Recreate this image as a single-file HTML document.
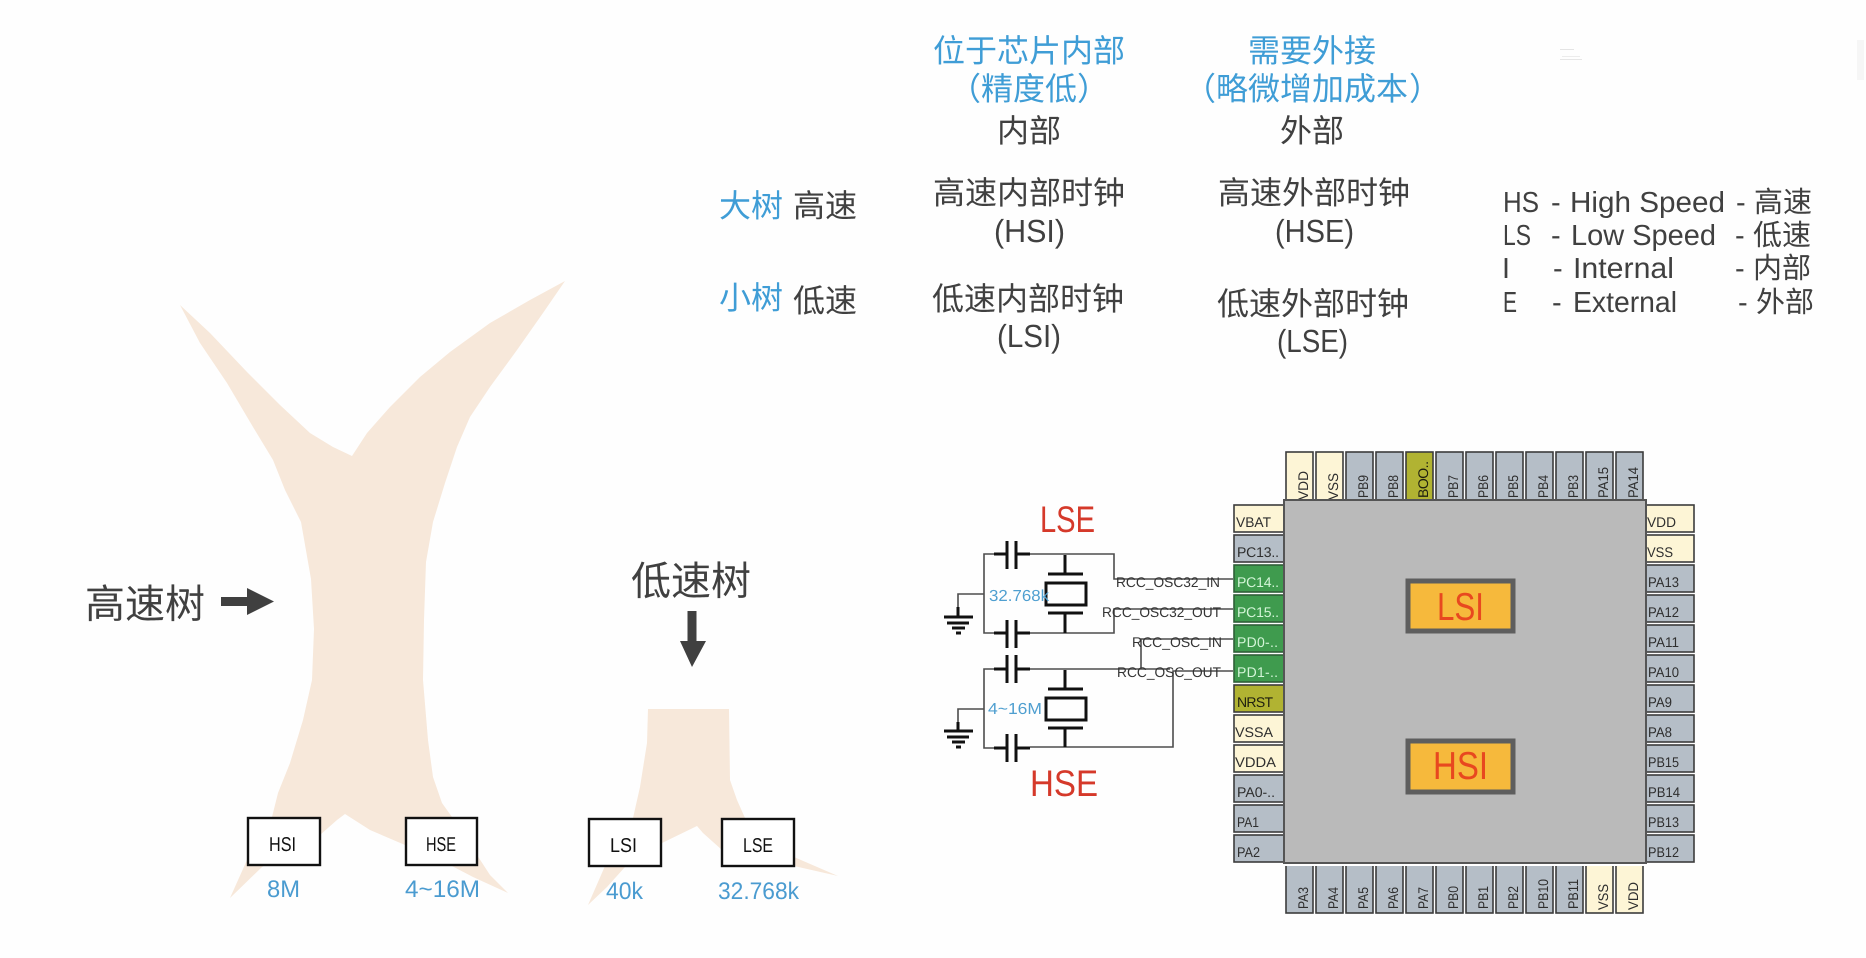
<!DOCTYPE html>
<html><head><meta charset="utf-8"><title>时钟树</title>
<style>
html,body{margin:0;padding:0;background:#fefefe}
svg{display:block}
text{font-family:"Liberation Sans","Noto Sans CJK SC",sans-serif;text-rendering:geometricPrecision}
.d{fill:#404040}
.b{fill:#3f9dd6}
.l{fill:#4a9bd0}
.m{text-anchor:middle}
.p{font-size:14px;fill:#2e2e2e}
.pg{font-size:14px;fill:#d4f5d8}
.gray{fill:#b5bec7;stroke:#3c3c3c;stroke-width:1.6}
.cream{fill:#fdf5d6;stroke:#3c3c3c;stroke-width:1.6}
.green{fill:#3f9b4e;stroke:#2f5f38;stroke-width:1.6}
.olive{fill:#b1b332;stroke:#3c3c3c;stroke-width:1.6}
.w{fill:none;stroke:#4d4d4d;stroke-width:1.6}
.k{fill:none;stroke:#111;stroke-width:3}
.r{font-size:14px;fill:#333}
.t{fill:#f7e8da}
</style></head>
<body>
<svg width="1866" height="958" viewBox="0 0 1866 958" xmlns="http://www.w3.org/2000/svg">
<rect width="1866" height="958" fill="#fefefe"/>

<!-- faint artefacts -->
<rect x="1560" y="49" width="14" height="1" fill="#e4e4e4"/>
<rect x="1562" y="56" width="18" height="1" fill="#ececec"/>
<rect x="1560" y="59" width="22" height="1" fill="#e6e6e6"/>
<rect x="1857" y="40" width="7" height="40" fill="#f6f6f6"/>

<!-- big tree -->
<path class="t" d="M180,305 L210,333 L247,372 L280,405 L310,433 L333,447 L352,456 L367,433 L390,407 L420,377 L450,352 L490,323 L530,300 L565,281 L543,313 L517,350 L490,387 L470,417 L457,447 L445,483 L433,522 L426,562 L424,620 L423,680 L428,740 L433,777 L442,803 L452,817 L477,855 L490,875 L508,893 L473,877 L450,865 L405,845 L370,830 L345,814 L337,820 L320,835 L262,867 L230,898 L247,860 L272,817 L278,793 L290,763 L303,720 L312,680 L314,629 L311,579 L301,522 L285,490 L273,460 L253,427 L227,383 L200,343 Z"/>
<!-- stump -->
<path class="t" d="M648,709 L729,709 L730,780 L737,800 L745,818 L794,857 L838,876 L794,866 L722,850 L703,833 L697,826 L662,843 L625,867 L607,887 L588,905 L605,866 L633,818 L640,787 L647,743 Z"/>

<!-- top table -->
<g font-size="32">
<text x="1029" y="62" class="b m">位于芯片内部</text>
<text x="949" y="100" class="b">（</text>
<text x="1029" y="100" class="b m">精度低</text>
<text x="1077" y="100" class="b">）</text>
<text x="1029" y="142" class="d m">内部</text>
<text x="1312" y="62" class="b m">需要外接</text>
<text x="1184" y="100" class="b">（</text>
<text x="1312" y="100" class="b m">略微增加成本</text>
<text x="1409" y="100" class="b">）</text>
<text x="1312" y="142" class="d m">外部</text>
<text x="1029" y="204" class="d m">高速内部时钟</text>
<text x="994" y="242" class="d" textLength="71" lengthAdjust="spacingAndGlyphs">(HSI)</text>
<text x="1314" y="204" class="d m">高速外部时钟</text>
<text x="1275" y="242" class="d" textLength="79" lengthAdjust="spacingAndGlyphs">(HSE)</text>
<text x="1028" y="310" class="d m">低速内部时钟</text>
<text x="997" y="347" class="d" textLength="64" lengthAdjust="spacingAndGlyphs">(LSI)</text>
<text x="1313" y="315" class="d m">低速外部时钟</text>
<text x="1277" y="352" class="d" textLength="71" lengthAdjust="spacingAndGlyphs">(LSE)</text>
<text x="719" y="217" class="b">大树</text>
<text x="793" y="217" class="d">高速</text>
<text x="719" y="309" class="b">小树</text>
<text x="793" y="312" class="d">低速</text>
</g>

<!-- legend -->
<g font-size="29" class="d">
<text x="1503" y="212" textLength="36" lengthAdjust="spacingAndGlyphs">HS</text>
<text x="1551" y="212">-</text>
<text x="1570" y="212" textLength="155" lengthAdjust="spacingAndGlyphs">High Speed</text>
<text x="1736" y="212">-</text>
<text x="1754" y="212">高速</text>
<text x="1503" y="245" textLength="28" lengthAdjust="spacingAndGlyphs">LS</text>
<text x="1551" y="245">-</text>
<text x="1571" y="245" textLength="145" lengthAdjust="spacingAndGlyphs">Low Speed</text>
<text x="1735" y="245">-</text>
<text x="1753" y="245">低速</text>
<text x="1502" y="278" textLength="8" lengthAdjust="spacingAndGlyphs">I</text>
<text x="1553" y="278">-</text>
<text x="1573" y="278" textLength="101" lengthAdjust="spacingAndGlyphs">Internal</text>
<text x="1735" y="278">-</text>
<text x="1753" y="278">内部</text>
<text x="1503" y="312" textLength="14" lengthAdjust="spacingAndGlyphs">E</text>
<text x="1552" y="312">-</text>
<text x="1573" y="312" textLength="104" lengthAdjust="spacingAndGlyphs">External</text>
<text x="1738" y="312">-</text>
<text x="1756" y="312">外部</text>
</g>

<!-- tree labels + arrows -->
<text x="85" y="618" font-size="40" class="d">高速树</text>
<path d="M221,597 H247 V588 L274,601.5 L247,615 V606 H221 Z" fill="#404040"/>
<text x="631" y="595" font-size="40" class="d">低速树</text>
<path d="M687.5,611 H696.5 V641 H706 L692,667 L680,641 H687.5 Z" fill="#404040"/>

<!-- small boxes -->
<g fill="#fff" stroke="#111" stroke-width="2.4">
<rect x="248" y="818" width="72" height="47"/>
<rect x="406" y="818" width="71" height="47"/>
<rect x="589" y="819" width="72" height="47"/>
<rect x="722" y="819" width="72" height="47"/>
</g>
<g font-size="20" fill="#111">
<text x="269" y="851" textLength="27" lengthAdjust="spacingAndGlyphs">HSI</text>
<text x="426" y="851" textLength="30" lengthAdjust="spacingAndGlyphs">HSE</text>
<text x="610" y="852" textLength="27" lengthAdjust="spacingAndGlyphs">LSI</text>
<text x="743" y="852" textLength="30" lengthAdjust="spacingAndGlyphs">LSE</text>
</g>
<g font-size="24" class="l">
<text x="267" y="897" textLength="33" lengthAdjust="spacingAndGlyphs">8M</text>
<text x="405" y="897" textLength="75" lengthAdjust="spacingAndGlyphs">4~16M</text>
<text x="606" y="899" textLength="37" lengthAdjust="spacingAndGlyphs">40k</text>
<text x="718" y="899" textLength="81" lengthAdjust="spacingAndGlyphs">32.768k</text>
</g>

<!-- circuit wires -->
<path class="w" d="M994,554 H984 V633 H994 M1030,554 H1114 V579 H1233 M1030,633 H1114 V609 H1233 M984,594 H958 V607"/>
<path class="w" d="M994,669 H984 V748 H994 M1030,669 H1141 V639 H1233 M1141,669 H1170 M1030,747 H1173 V671 H1233 M984,709 H958 V722"/>
<!-- caps and crystals -->
<g class="k">
<path d="M994,554 H1007 M1007,541 V569 M1016,541 V569 M1016,554 H1030"/>
<path d="M994,633 H1007 M1007,620 V648 M1016,620 V648 M1016,633 H1030"/>
<path d="M994,669 H1007 M1007,655 V683 M1016,655 V683 M1016,669 H1030"/>
<path d="M994,748 H1007 M1007,734 V762 M1016,734 V762 M1016,748 H1030"/>
<path d="M1065,555 V574 M1048,574 H1083 M1065,613 V633 M1048,613 H1083"/>
<rect x="1046" y="583" width="40" height="22"/>
<path d="M1065,670 V689 M1048,689 H1083 M1065,728 V747 M1048,728 H1083"/>
<rect x="1046" y="698" width="40" height="22"/>
<path d="M958,607 V617 M944,617 H973 M947,623 H969 M952,628 H965 M956,633 H961"/>
<path d="M958,722 V731 M944,731 H973 M947,737 H969 M952,742 H965 M956,747 H961"/>
</g>
<g class="r">
<text x="1116" y="587" textLength="104" lengthAdjust="spacingAndGlyphs">RCC_OSC32_IN</text>
<text x="1102" y="617" textLength="119" lengthAdjust="spacingAndGlyphs">RCC_OSC32_OUT</text>
<text x="1132" y="647" textLength="90" lengthAdjust="spacingAndGlyphs">RCC_OSC_IN</text>
<text x="1117" y="677" textLength="104" lengthAdjust="spacingAndGlyphs">RCC_OSC_OUT</text>
</g>
<text x="989" y="601" font-size="16" fill="#4f9fd0" textLength="60" lengthAdjust="spacingAndGlyphs">32.768k</text>
<text x="988" y="714" font-size="16" fill="#4f9fd0" textLength="54" lengthAdjust="spacingAndGlyphs">4~16M</text>
<text x="1040" y="532" font-size="37" fill="#d5392a" textLength="55" lengthAdjust="spacingAndGlyphs">LSE</text>
<text x="1030" y="796" font-size="37" fill="#d5392a" textLength="68" lengthAdjust="spacingAndGlyphs">HSE</text>

<!-- left pins -->
<rect class="cream" x="1234" y="505" width="52" height="27"/>
<rect class="gray" x="1234" y="535" width="52" height="27"/>
<rect class="green" x="1234" y="565" width="52" height="27"/>
<rect class="green" x="1234" y="595" width="52" height="27"/>
<rect class="green" x="1234" y="625" width="52" height="27"/>
<rect class="green" x="1234" y="655" width="52" height="27"/>
<rect class="olive" x="1234" y="685" width="52" height="27"/>
<rect class="cream" x="1234" y="715" width="52" height="27"/>
<rect class="cream" x="1234" y="745" width="52" height="27"/>
<rect class="gray" x="1234" y="775" width="52" height="27"/>
<rect class="gray" x="1234" y="805" width="52" height="27"/>
<rect class="gray" x="1234" y="835" width="52" height="27"/>
<!-- right pins -->
<rect class="cream" x="1642" y="505" width="52" height="27"/>
<rect class="cream" x="1642" y="535" width="52" height="27"/>
<rect class="gray" x="1642" y="565" width="52" height="27"/>
<rect class="gray" x="1642" y="595" width="52" height="27"/>
<rect class="gray" x="1642" y="625" width="52" height="27"/>
<rect class="gray" x="1642" y="655" width="52" height="27"/>
<rect class="gray" x="1642" y="685" width="52" height="27"/>
<rect class="gray" x="1642" y="715" width="52" height="27"/>
<rect class="gray" x="1642" y="745" width="52" height="27"/>
<rect class="gray" x="1642" y="775" width="52" height="27"/>
<rect class="gray" x="1642" y="805" width="52" height="27"/>
<rect class="gray" x="1642" y="835" width="52" height="27"/>
<!-- top pins -->
<rect class="cream" x="1286" y="452" width="27" height="52"/>
<rect class="cream" x="1316" y="452" width="27" height="52"/>
<rect class="gray" x="1346" y="452" width="27" height="52"/>
<rect class="gray" x="1376" y="452" width="27" height="52"/>
<rect class="olive" x="1406" y="452" width="27" height="52"/>
<rect class="gray" x="1436" y="452" width="27" height="52"/>
<rect class="gray" x="1466" y="452" width="27" height="52"/>
<rect class="gray" x="1496" y="452" width="27" height="52"/>
<rect class="gray" x="1526" y="452" width="27" height="52"/>
<rect class="gray" x="1556" y="452" width="27" height="52"/>
<rect class="gray" x="1586" y="452" width="27" height="52"/>
<rect class="gray" x="1616" y="452" width="27" height="52"/>
<!-- bottom pins -->
<rect class="gray" x="1286" y="861" width="27" height="52"/>
<rect class="gray" x="1316" y="861" width="27" height="52"/>
<rect class="gray" x="1346" y="861" width="27" height="52"/>
<rect class="gray" x="1376" y="861" width="27" height="52"/>
<rect class="gray" x="1406" y="861" width="27" height="52"/>
<rect class="gray" x="1436" y="861" width="27" height="52"/>
<rect class="gray" x="1466" y="861" width="27" height="52"/>
<rect class="gray" x="1496" y="861" width="27" height="52"/>
<rect class="gray" x="1526" y="861" width="27" height="52"/>
<rect class="gray" x="1556" y="861" width="27" height="52"/>
<rect class="cream" x="1586" y="861" width="27" height="52"/>
<rect class="cream" x="1616" y="861" width="27" height="52"/>

<!-- left labels -->
<text class="p" x="1236" y="527" textLength="35" lengthAdjust="spacingAndGlyphs">VBAT</text>
<text class="p" x="1237" y="557" textLength="42">PC13..</text>
<text class="pg" x="1237" y="587" textLength="42">PC14..</text>
<text class="pg" x="1237" y="617" textLength="42">PC15..</text>
<text class="pg" x="1237" y="647" textLength="41">PD0-..</text>
<text class="pg" x="1237" y="677" textLength="41">PD1-..</text>
<text class="p" x="1237" y="707" textLength="36" style="fill:#1f1f10">NRST</text>
<text class="p" x="1235" y="737" textLength="38" lengthAdjust="spacingAndGlyphs">VSSA</text>
<text class="p" x="1235" y="767" textLength="41" lengthAdjust="spacingAndGlyphs">VDDA</text>
<text class="p" x="1237" y="797" textLength="38" lengthAdjust="spacingAndGlyphs">PA0-..</text>
<text class="p" x="1237" y="827" textLength="22" lengthAdjust="spacingAndGlyphs">PA1</text>
<text class="p" x="1237" y="857" textLength="23" lengthAdjust="spacingAndGlyphs">PA2</text>
<!-- right labels -->
<text class="p" x="1647" y="527" textLength="29" lengthAdjust="spacingAndGlyphs">VDD</text>
<text class="p" x="1647" y="557" textLength="26" lengthAdjust="spacingAndGlyphs">VSS</text>
<text class="p" x="1648" y="587" textLength="31" lengthAdjust="spacingAndGlyphs">PA13</text>
<text class="p" x="1648" y="617" textLength="31" lengthAdjust="spacingAndGlyphs">PA12</text>
<text class="p" x="1648" y="647" textLength="31" lengthAdjust="spacingAndGlyphs">PA11</text>
<text class="p" x="1648" y="677" textLength="31" lengthAdjust="spacingAndGlyphs">PA10</text>
<text class="p" x="1648" y="707" textLength="24" lengthAdjust="spacingAndGlyphs">PA9</text>
<text class="p" x="1648" y="737" textLength="24" lengthAdjust="spacingAndGlyphs">PA8</text>
<text class="p" x="1648" y="767" textLength="31" lengthAdjust="spacingAndGlyphs">PB15</text>
<text class="p" x="1648" y="797" textLength="32" lengthAdjust="spacingAndGlyphs">PB14</text>
<text class="p" x="1648" y="827" textLength="31" lengthAdjust="spacingAndGlyphs">PB13</text>
<text class="p" x="1648" y="857" textLength="31" lengthAdjust="spacingAndGlyphs">PB12</text>
<!-- top labels -->
<text class="p" transform="translate(1308,500) rotate(-90)" textLength="29" lengthAdjust="spacingAndGlyphs">VDD</text>
<text class="p" transform="translate(1338,500) rotate(-90)" textLength="27" lengthAdjust="spacingAndGlyphs">VSS</text>
<text class="p" transform="translate(1368,498) rotate(-90)" textLength="23" lengthAdjust="spacingAndGlyphs">PB9</text>
<text class="p" transform="translate(1398,498) rotate(-90)" textLength="23" lengthAdjust="spacingAndGlyphs">PB8</text>
<text class="p" transform="translate(1428,498) rotate(-90)" textLength="37" style="fill:#1f1f10">BOO..</text>
<text class="p" transform="translate(1458,498) rotate(-90)" textLength="23" lengthAdjust="spacingAndGlyphs">PB7</text>
<text class="p" transform="translate(1488,498) rotate(-90)" textLength="23" lengthAdjust="spacingAndGlyphs">PB6</text>
<text class="p" transform="translate(1518,498) rotate(-90)" textLength="23" lengthAdjust="spacingAndGlyphs">PB5</text>
<text class="p" transform="translate(1548,498) rotate(-90)" textLength="23" lengthAdjust="spacingAndGlyphs">PB4</text>
<text class="p" transform="translate(1578,498) rotate(-90)" textLength="23" lengthAdjust="spacingAndGlyphs">PB3</text>
<text class="p" transform="translate(1608,498) rotate(-90)" textLength="31" lengthAdjust="spacingAndGlyphs">PA15</text>
<text class="p" transform="translate(1638,498) rotate(-90)" textLength="31" lengthAdjust="spacingAndGlyphs">PA14</text>

<!-- chip -->
<rect x="1284" y="500" width="362" height="363" fill="#bababa" stroke="#555" stroke-width="2"/>
<rect x="1283" y="864" width="364" height="2" fill="#fff"/>

<!-- bottom labels -->
<text class="p" transform="translate(1308,909) rotate(-90)" textLength="22" lengthAdjust="spacingAndGlyphs">PA3</text>
<text class="p" transform="translate(1338,909) rotate(-90)" textLength="22" lengthAdjust="spacingAndGlyphs">PA4</text>
<text class="p" transform="translate(1368,909) rotate(-90)" textLength="22" lengthAdjust="spacingAndGlyphs">PA5</text>
<text class="p" transform="translate(1398,909) rotate(-90)" textLength="22" lengthAdjust="spacingAndGlyphs">PA6</text>
<text class="p" transform="translate(1428,909) rotate(-90)" textLength="22" lengthAdjust="spacingAndGlyphs">PA7</text>
<text class="p" transform="translate(1458,909) rotate(-90)" textLength="23" lengthAdjust="spacingAndGlyphs">PB0</text>
<text class="p" transform="translate(1488,909) rotate(-90)" textLength="23" lengthAdjust="spacingAndGlyphs">PB1</text>
<text class="p" transform="translate(1518,909) rotate(-90)" textLength="23" lengthAdjust="spacingAndGlyphs">PB2</text>
<text class="p" transform="translate(1548,909) rotate(-90)" textLength="30" lengthAdjust="spacingAndGlyphs">PB10</text>
<text class="p" transform="translate(1578,909) rotate(-90)" textLength="30" lengthAdjust="spacingAndGlyphs">PB11</text>
<text class="p" transform="translate(1608,910) rotate(-90)" textLength="26" lengthAdjust="spacingAndGlyphs">VSS</text>
<text class="p" transform="translate(1638,910) rotate(-90)" textLength="28" lengthAdjust="spacingAndGlyphs">VDD</text>

<!-- LSI / HSI blocks -->
<rect x="1408" y="581" width="105" height="50" fill="#f6b93c" stroke="#5e5e5e" stroke-width="5"/>
<rect x="1408" y="741" width="105" height="51" fill="#f6b93c" stroke="#5e5e5e" stroke-width="5"/>
<text x="1437" y="620" font-size="39" fill="#e8481f" textLength="47" lengthAdjust="spacingAndGlyphs">LSI</text>
<text x="1433" y="779" font-size="39" fill="#e8481f" textLength="55" lengthAdjust="spacingAndGlyphs">HSI</text>
</svg>
</body></html>
